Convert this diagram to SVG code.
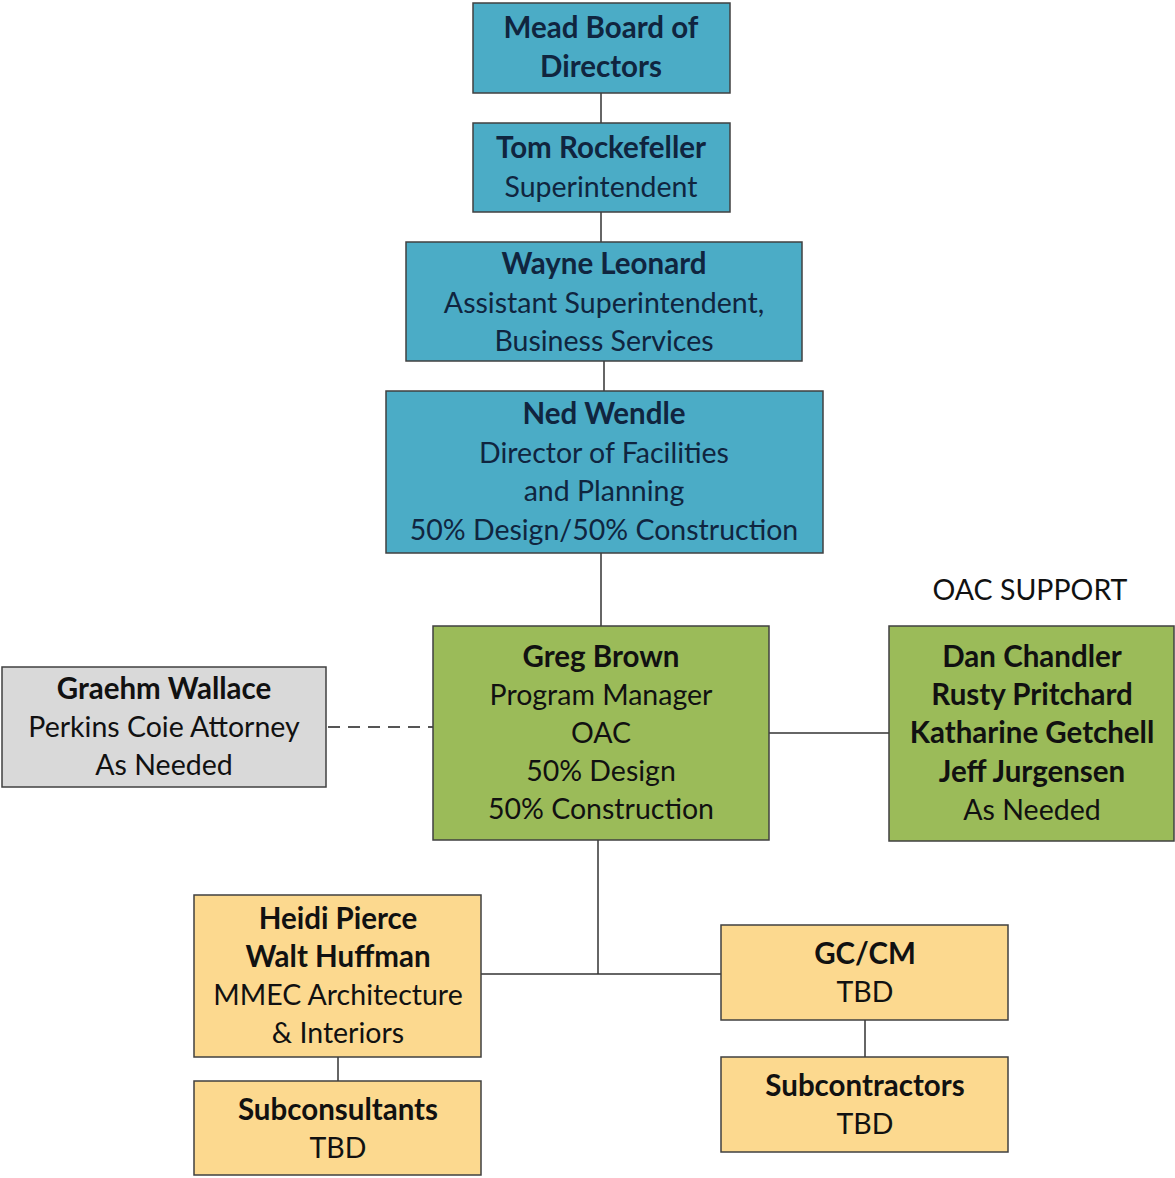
<svg xmlns="http://www.w3.org/2000/svg" width="1175" height="1178" viewBox="0 0 1175 1178">
<style>
.box{stroke:#404040;stroke-width:1.5}
.blue{fill:#4BACC6}
.green{fill:#9BBB59}
.gold{fill:#FCD98F}
.gray{fill:#D9D9D9}
text{font-family:Lato,"Liberation Sans",sans-serif;font-size:28.5px;text-anchor:middle}
.b{font-weight:bold;font-size:29.5px}
.bt{fill:#10253F}
.dk{fill:#111}
.ln{stroke:#333;stroke-width:1.5;fill:none}
.dash{stroke:#555;stroke-width:2.2;stroke-dasharray:12,8;fill:none}
</style>
<rect width="1175" height="1178" fill="#fff"/>
<g id="connectors">
<line class="ln" x1="601" y1="93" x2="601" y2="123"/>
<line class="ln" x1="601" y1="212" x2="601" y2="242"/>
<line class="ln" x1="604" y1="361" x2="604" y2="391"/>
<line class="ln" x1="601" y1="553" x2="601" y2="626"/>
<line class="dash" x1="328" y1="727" x2="433" y2="727"/>
<line class="ln" x1="769" y1="733" x2="889" y2="733"/>
<line class="ln" x1="598" y1="840" x2="598" y2="974"/>
<line class="ln" x1="481" y1="974" x2="721" y2="974"/>
<line class="ln" x1="338" y1="1057" x2="338" y2="1081"/>
<line class="ln" x1="865" y1="1020" x2="865" y2="1057"/>
</g>
<g id="mead">
<rect class="box blue" x="473" y="3" width="257" height="90"/>
<text class="b bt" x="601" y="38">Mead Board of</text>
<text class="b bt" x="601" y="77">Directors</text>
</g>
<g id="tom">
<rect class="box blue" x="473" y="123" width="257" height="89"/>
<text class="b bt" x="601" y="158">Tom Rockefeller</text>
<text class="bt" x="601" y="197">Superintendent</text>
</g>
<g id="wayne">
<rect class="box blue" x="406" y="242" width="396" height="119"/>
<text class="b bt" x="604" y="274">Wayne Leonard</text>
<text class="bt" x="604" y="313">Assistant Superintendent,</text>
<text class="bt" x="604" y="351">Business Services</text>
</g>
<g id="ned">
<rect class="box blue" x="386" y="391" width="437" height="162"/>
<text class="b bt" x="604" y="424">Ned Wendle</text>
<text class="bt" x="604" y="463">Director of Facilities</text>
<text class="bt" x="604" y="501">and Planning</text>
<text class="bt" x="604" y="540">50% Design/50% Construction</text>
</g>
<g id="greg">
<rect class="box green" x="433" y="626" width="336" height="214"/>
<text class="b dk" x="601" y="667">Greg Brown</text>
<text class="dk" x="601" y="705">Program Manager</text>
<text class="dk" x="601" y="743">OAC</text>
<text class="dk" x="601" y="781">50% Design</text>
<text class="dk" x="601" y="819">50% Construction</text>
</g>
<g id="graehm">
<rect class="box gray" x="2" y="667" width="324" height="120"/>
<text class="b dk" x="164" y="699">Graehm Wallace</text>
<text class="dk" x="164" y="737">Perkins Coie Attorney</text>
<text class="dk" x="164" y="775">As Needed</text>
</g>
<text class="dk" x="1030" y="600">OAC SUPPORT</text>
<g id="support">
<rect class="box green" x="889" y="626" width="285" height="215"/>
<text class="b dk" x="1032" y="667">Dan Chandler</text>
<text class="b dk" x="1032" y="705">Rusty Pritchard</text>
<text class="b dk" x="1032" y="743">Katharine Getchell</text>
<text class="b dk" x="1032" y="782">Jeff Jurgensen</text>
<text class="dk" x="1032" y="820">As Needed</text>
</g>
<g id="heidi">
<rect class="box gold" x="194" y="895" width="287" height="162"/>
<text class="b dk" x="338" y="929">Heidi Pierce</text>
<text class="b dk" x="338" y="967">Walt Huffman</text>
<text class="dk" x="338" y="1005">MMEC Architecture</text>
<text class="dk" x="338" y="1043">&amp; Interiors</text>
</g>
<g id="subconsultants">
<rect class="box gold" x="194" y="1081" width="287" height="94"/>
<text class="b dk" x="338" y="1120">Subconsultants</text>
<text class="dk" x="338" y="1158">TBD</text>
</g>
<g id="gccm">
<rect class="box gold" x="721" y="925" width="287" height="95"/>
<text class="b dk" x="865" y="964">GC/CM</text>
<text class="dk" x="865" y="1002">TBD</text>
</g>
<g id="subcontractors">
<rect class="box gold" x="721" y="1057" width="287" height="95"/>
<text class="b dk" x="865" y="1096">Subcontractors</text>
<text class="dk" x="865" y="1134">TBD</text>
</g>
</svg>
